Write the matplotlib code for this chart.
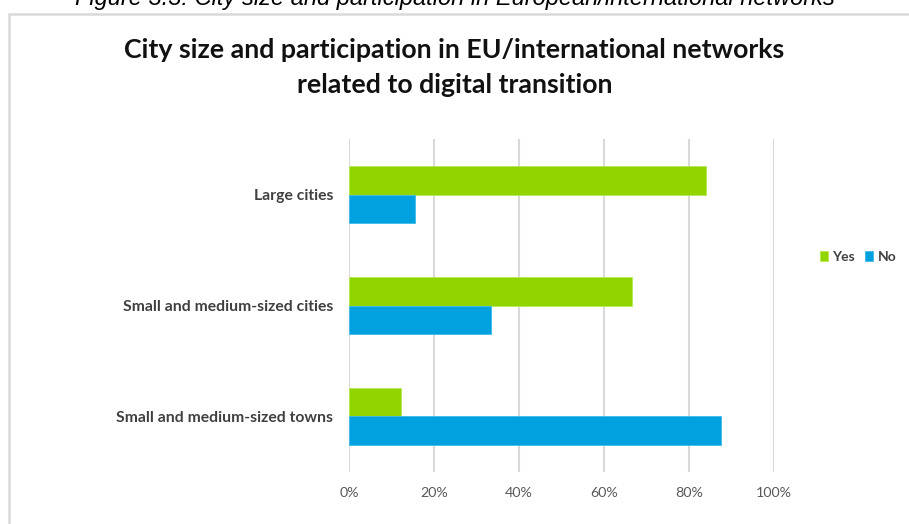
import numpy as np
import matplotlib
matplotlib.use("Agg")
import matplotlib.pyplot as plt
from matplotlib.patches import Rectangle
from matplotlib.ticker import PercentFormatter

# Share of cities taking part in EU/international digital networks
categories = ["Large cities", "Small and medium-sized cities", "Small and medium-sized towns"]
yes_share = [84.0, 66.7, 12.3]
no_share = [15.6, 33.3, 87.5]
x_ticks = [0, 20, 40, 60, 80, 100]

GREEN = "#92D400"
BLUE = "#00A1DE"
GRID = "#D9D9D9"

W, H = 909, 524
fig = plt.figure(figsize=(W / 100, H / 100), dpi=100)
fig.patch.set_facecolor("white")

# caption of the figure, mostly cut off by the top edge
fig.text(0.5, 1 - 5 / H, "Figure 3.3: City size and participation in European/international networks",
         ha="center", va="baseline", fontsize=17, style="italic",
         family="Liberation Sans", color="#000000")

# chart frame
fig.patches.append(Rectangle((9 / W, -0.1), 1.2, 1 - 14 / H + 0.1, transform=fig.transFigure,
                             fill=False, edgecolor=GRID, linewidth=1.8, zorder=0))

fig.text(0.5, 1 - 50 / H, "City size and participation in EU/international networks",
         ha="center", va="center", fontsize=19.3, fontweight="bold", family="Lato", color="#111111")
fig.text(0.5, 1 - 85 / H, "related to digital transition",
         ha="center", va="center", fontsize=19.3, fontweight="bold", family="Lato", color="#111111")

ax = fig.add_axes([349 / W, 1 - 472 / H, 425 / W, 333 / H])
y = np.arange(len(categories))[::-1]
h = 0.257
ax.barh(y + h / 2, yes_share, height=h, color=GREEN, edgecolor="#B5E84D", linewidth=0.6, label="Yes", zorder=3)
ax.barh(y - h / 2, no_share, height=h, color=BLUE, edgecolor="#3DBBEA", linewidth=0.6, label="No", zorder=3)

ax.set_xlim(0, 100)
ax.set_ylim(-0.5, 2.5)
ax.set_xticks(x_ticks)
ax.xaxis.set_major_formatter(PercentFormatter(decimals=0))
ax.set_yticks(y)
ax.set_yticklabels(categories)
for lbl in ax.get_yticklabels():
    lbl.set_fontweight("bold")
    lbl.set_family("Lato")
    lbl.set_fontsize(11.3)
    lbl.set_color("#404040")
for lbl in ax.get_xticklabels():
    lbl.set_family("Lato")
    lbl.set_fontsize(10.3)
    lbl.set_color("#595959")
ax.tick_params(axis="y", length=0, pad=11.5)
ax.tick_params(axis="x", length=0, pad=11)
ax.grid(axis="x", color=GRID, linewidth=1.5, zorder=0)
for s in ax.spines.values():
    s.set_visible(False)

leg = fig.legend(loc="center left", bbox_to_anchor=(820 / W, 1 - 257 / H), ncol=2, frameon=False,
                 handlelength=0.6, handleheight=0.7, handletextpad=0.3, columnspacing=0.7,
                 prop={"family": "Lato", "weight": "bold", "size": 10}, borderaxespad=0, borderpad=0)
for t in leg.get_texts():
    t.set_color("#404040")

fig.savefig("out.png", dpi=100, facecolor="white")
